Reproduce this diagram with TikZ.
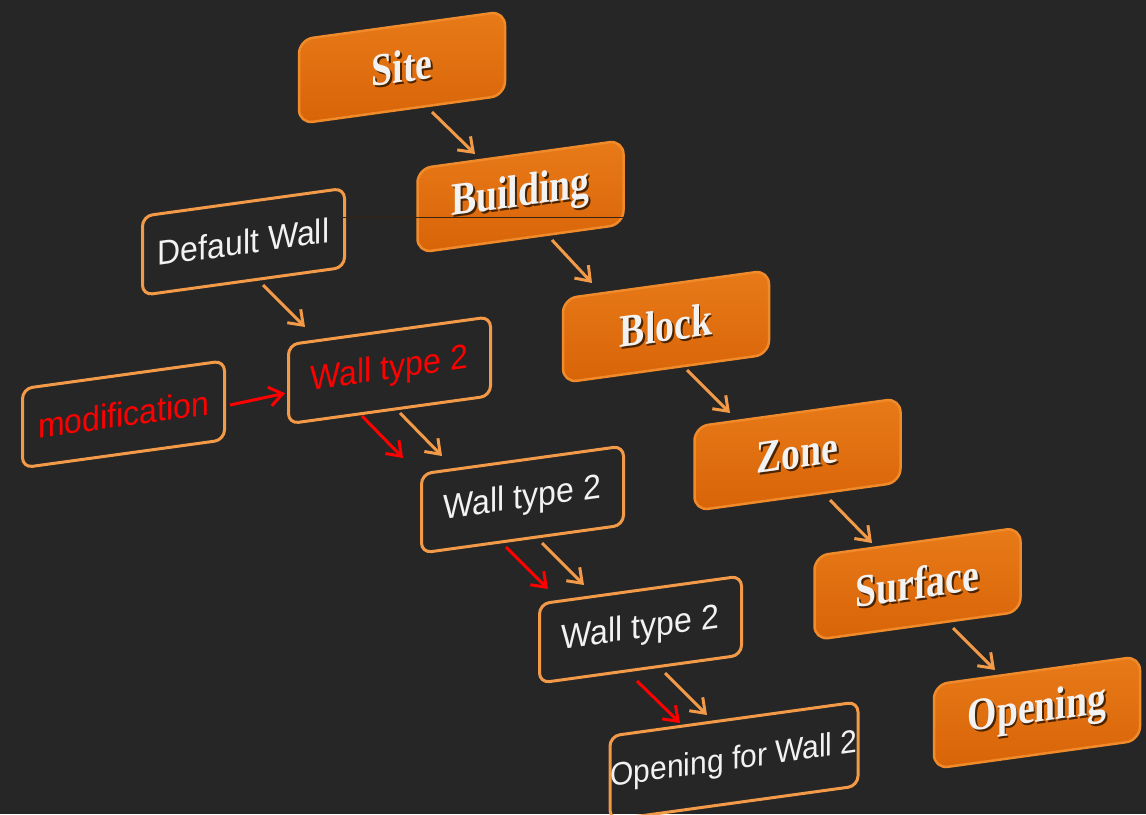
\documentclass[tikz,border=0pt]{standalone}
\usepackage{fontspec}
\usepackage{graphicx}
\usetikzlibrary{arrows.meta,calc}
\newfontfamily\serifbf{Liberation Serif}
\newfontfamily\sansf{Liberation Sans}
\definecolor{bgc}{HTML}{262626}
\definecolor{otop}{HTML}{E87A18}
\definecolor{obot}{HTML}{D86408}
\definecolor{orim}{HTML}{F08A2A}
\definecolor{lorange}{HTML}{F29A48}
\definecolor{wtext}{HTML}{F2F2F2}
\definecolor{shad}{HTML}{4A2400}
\definecolor{redc}{HTML}{FF0000}
\definecolor{artc}{HTML}{3A2410}
\newcommand\shtext[1]{\leavevmode\rlap{\kern1.8pt\raisebox{-1.8pt}{\textcolor{shad}{#1}}}#1}
\newcommand\otxt[1]{\scalebox{1.02}[1.25]{\shtext{#1}}}
\begin{document}
\begin{tikzpicture}[x=1pt,y=-1pt,
 obox/.style={yslant=0.138, rounded corners=14pt, minimum width=206pt, minimum height=84pt,
   top color=otop, bottom color=obot, draw=orim, line width=2.5pt, text=wtext,
   font=\serifbf\bfseries\fontsize{37}{40}\selectfont, inner sep=0pt},
 wbox/.style={yslant=0.138, rounded corners=10pt, minimum width=202pt, minimum height=79pt,
   draw=lorange, line width=3pt, text=wtext, font=\sansf\fontsize{32}{36}\selectfont, inner sep=0pt},
 oarr/.style={draw=lorange, line width=3pt, -{Straight Barb[length=13pt,width=19pt]}},
 rarr/.style={draw=redc, line width=3pt, -{Straight Barb[length=13pt,width=19pt]}},
]
\fill[bgc] (0,0) rectangle (1146,814);
\useasboundingbox (0,0) rectangle (1146,814);

% orange hierarchy
\node[obox] (site) at (402,67.5) {\otxt{Site}};
\node[obox] (bldg) at (520.5,196.5) {\otxt{Building}};
\node[obox] (block) at (666,326.5) {\otxt{Block}};
\node[obox] (zone) at (797.5,454.5) {\otxt{Zone}};
\node[obox] (surf) at (917.5,583.75) {\otxt{Surface}};
\node[obox] (open) at (1037,712.5) {\otxt{Opening}};

% outline boxes
\node[wbox] (dw) at (243.5,241.75) {\scalebox{1}[1.08]{Default Wall}};
\node[wbox, text=redc] (wa) at (389.5,370.25) {\scalebox{1}[1.08]{Wall type 2}};
\node[wbox, text=redc] (mod) at (123.5,414.25) {\scalebox{1}[1.08]{modification}};
\node[wbox] (wb) at (522.5,499.5) {\scalebox{1}[1.08]{Wall type 2}};
\node[wbox] (wc) at (640.5,629.5) {\scalebox{1}[1.08]{Wall type 2}};
\node[wbox, minimum width=248pt, minimum height=84pt, font=\sansf\fontsize{30}{34}\selectfont] (ofw) at (734,761) {\scalebox{1}[1.08]{Opening for Wall 2}};

% artefact line
\draw[artc, line width=0.8pt] (343,217) -- (625,217);

% orange arrows
\draw[oarr] ($(site)+(30,44.5)$) -- ($(bldg)+(-45.5,-42.5)$);
\draw[oarr] ($(bldg)+(31.5,43.5)$) -- ($(block)+(-74,-43.5)$);
\draw[oarr] ($(block)+(21,43.5)$) -- ($(zone)+(-67.5,-41.5)$);
\draw[oarr] ($(zone)+(32.5,45.5)$) -- ($(surf)+(-45.5,-40.75)$);
\draw[oarr] ($(surf)+(35.5,44.25)$) -- ($(open)+(-42,-42.5)$);

\draw[oarr] ($(dw)+(19.5,43.25)$) -- ($(wa)+(-84.5,-43.25)$);
\draw[rarr] ($(mod)+(106.5,-9.25)$) -- ($(wa)+(-104.5,23)$);
\draw[rarr] ($(wa)+(-27.5,45.75)$) -- ($(wb)+(-119.5,-41.5)$);
\draw[oarr] ($(wa)+(10.5,42.75)$) -- ($(wb)+(-80.5,-43.5)$);
\draw[rarr] ($(wb)+(-16.5,47.5)$) -- ($(wc)+(-92.5,-40.5)$);
\draw[oarr] ($(wb)+(19.5,43.5)$) -- ($(wc)+(-56.5,-44.5)$);
\draw[rarr] ($(wc)+(-3.5,51.5)$) -- ($(ofw)+(-54,-38)$);
\draw[oarr] ($(wc)+(24.5,43.5)$) -- ($(ofw)+(-27,-46)$);
\end{tikzpicture}
\end{document}
